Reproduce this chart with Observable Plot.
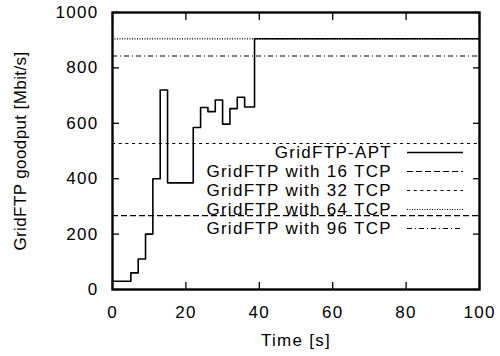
<!DOCTYPE html>
<html><head><meta charset="utf-8">
<script src="https://cdn.jsdelivr.net/npm/d3@7"></script>
<script src="https://cdn.jsdelivr.net/npm/@observablehq/plot@0.6"></script>
<style>
body{margin:0;background:#fff;}
#wrap{position:relative;width:500px;height:356px;overflow:hidden;}
#wrap svg{display:block;}
.lg{position:absolute;font-family:"Liberation Sans",Arial,sans-serif;font-size:17px;letter-spacing:1.3px;color:#000;white-space:nowrap;}
</style></head><body><div id="wrap"></div>
<script>
// ---- data ----
const times   = [0, 5, 7, 9, 11, 13, 15, 22, 24, 26, 28, 30, 32, 34, 36, 38.7, 100];
const goodput = [30, 60, 110, 200, 400, 720, 385, 585, 657, 642, 684, 597, 653, 694, 659, 905, 905];
const seriesNames = ["GridFTP-APT", "GridFTP with 16 TCP", "GridFTP with 32 TCP", "GridFTP with 64 TCP", "GridFTP with 96 TCP"];
const refValues = [267, 527, 905, 843]; // 16, 32, 64, 96 TCP
const xTicks = [0, 20, 40, 60, 80, 100];
const yTicks = [0, 200, 400, 600, 800, 1000];
const xLabel = "Time [s]";
const yLabel = "GridFTP goodput [Mbit/s]";

// ---- styles ----
const dashStyles = [null, "6,3", "3,3.7", "1,1.5", "5,3,1,3"];
const font = "'Liberation Sans', Arial, sans-serif";

const stepData = times.map((t, i) => ({t, v: goodput[i]}));

const tickAxis = (fn, anchor, ticks) => fn(ticks, {anchor, tickSize: -7, fill: "none", label: null, strokeWidth: 1.3});

const chart = Plot.plot({
  width: 500, height: 356,
  marginLeft: 112, marginRight: 21, marginTop: 12, marginBottom: 67,
  style: {fontFamily: font, fontSize: "17px", background: "#fff", color: "#000"},
  x: {domain: [0, 100]},
  y: {domain: [0, 1000]},
  marks: [
    ...refValues.map((v, i) => Plot.ruleY([v], {strokeDasharray: dashStyles[i + 1], strokeWidth: 1.2, stroke: "#000"})),
    Plot.line(stepData, {x: "t", y: "v", curve: "step-after", stroke: "#000", strokeWidth: 1.6}),
    tickAxis(Plot.axisX, "bottom", xTicks),
    tickAxis(Plot.axisX, "top", xTicks),
    tickAxis(Plot.axisY, "left", yTicks),
    tickAxis(Plot.axisY, "right", yTicks),
    Plot.axisX(xTicks, {anchor: "bottom", tickSize: 0, tickPadding: 16, tickFormat: d => String(d), label: xLabel, labelAnchor: "center", labelOffset: 56, labelArrow: "none"}),
    Plot.axisY(yTicks, {anchor: "left", tickSize: 0, tickPadding: 14, tickFormat: d => String(d), label: yLabel, labelAnchor: "center", labelOffset: 99, labelArrow: "none"}),
    Plot.frame({stroke: "#000", strokeWidth: 2.4})
  ]
});

const svg = d3.select(chart);
svg.selectAll("text").style("letter-spacing", "1.3px");
svg.selectAll("text").filter(function() { return this.textContent === yLabel; }).style("letter-spacing", "0.4px");

const wrap = document.getElementById("wrap");
wrap.appendChild(chart);

// legend (gnuplot-style key, inside the plot)
seriesNames.forEach((name, i) => {
  const top = 143 + i * 19;
  const txt = document.createElement("div");
  txt.className = "lg";
  txt.style.left = "0px";
  txt.style.width = "392px";
  txt.style.textAlign = "right";
  txt.style.top = top + "px";
  txt.style.lineHeight = "19px";
  txt.textContent = name;
  wrap.appendChild(txt);
  const s = d3.create("svg").attr("width", 57).attr("height", 19)
    .style("position", "absolute").style("left", "407px").style("top", top + "px");
  s.append("line").attr("x1", 0).attr("x2", 56).attr("y1", 9.5).attr("y2", 9.5)
    .attr("stroke", "#000").attr("stroke-width", i === 0 ? 1.6 : 1.2)
    .attr("stroke-dasharray", dashStyles[i]);
  wrap.appendChild(s.node());
});
</script>
</body></html>
